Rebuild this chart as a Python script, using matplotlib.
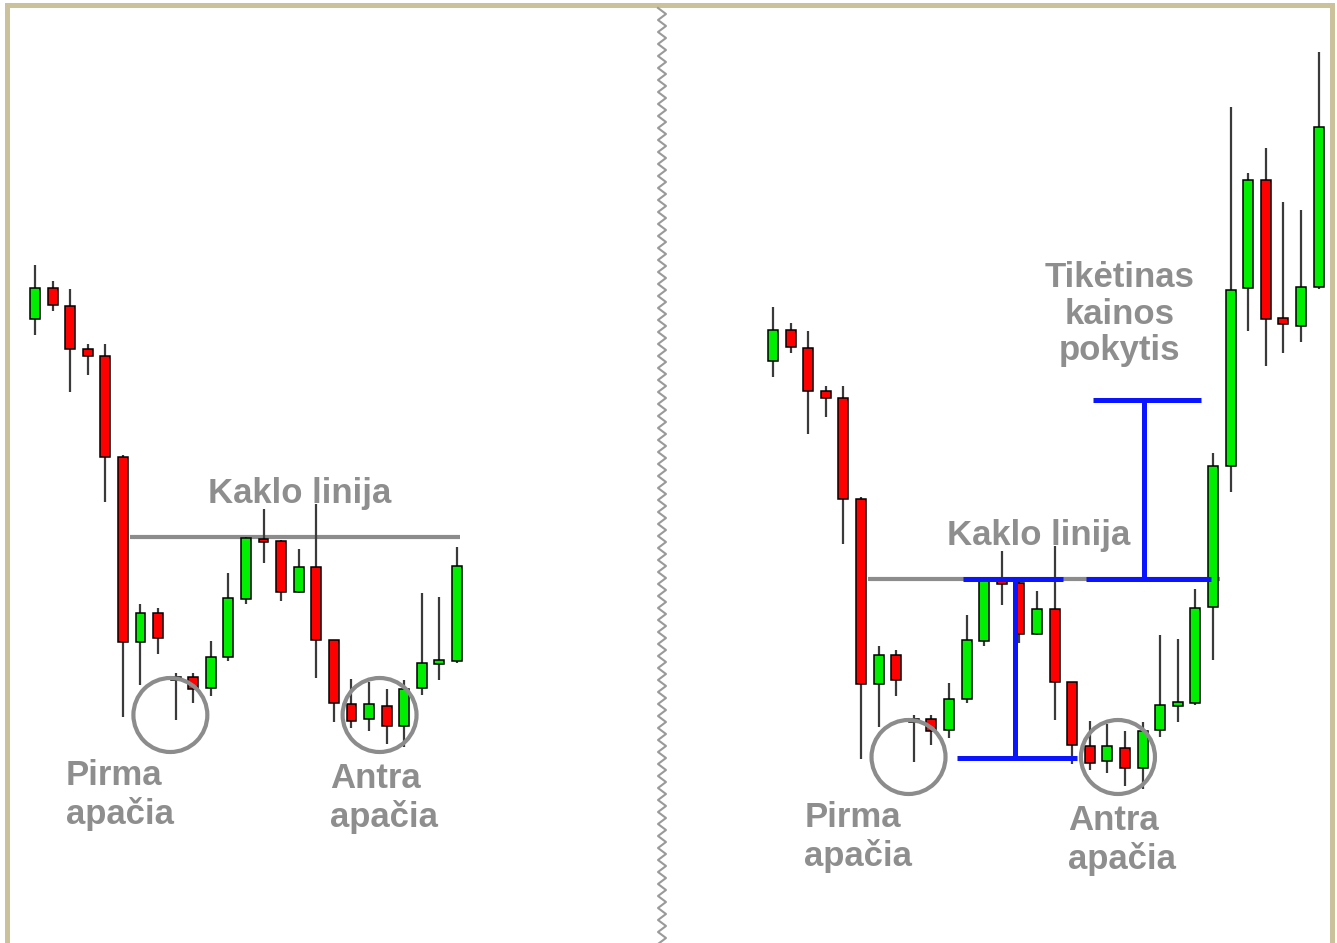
import matplotlib.pyplot as plt
from matplotlib.patches import Ellipse
import numpy as np

# candles (arbitrary price units), 32 bars
opens  = [381, 412, 394, 351, 344, 243, 58, 87, 20, 23, 12, 43, 101, 160, 159, 108,
          133, 60, -4, -19, -6, -26, 12, 36, 39, 135, 276, 454, 562, 424, 416, 455]
highs  = [435, 419, 411, 356, 356, 245, 96, 92, 27, 27, 59, 127, 163, 191, 160, 151,
          196, 60, 21, 18, 11, 20, 107, 103, 153, 289, 635, 569, 594, 540, 532, 690]
lows   = [365, 389, 308, 325, 198, -17, 15, 46, -20, -3, 4, 39, 96, 137, 99, 107,
          22, -22, -28, -31, -44, -47, 5, 20, 37, 82, 250, 411, 376, 389, 400, 453]
closes = [412, 395, 351, 344, 243, 58, 87, 62, 22, 11, 43, 102, 162, 158, 108, 133,
          60, -3, -21, -4, -26, 11, 37, 40, 134, 276, 452, 562, 423, 418, 455, 615]

n_left = 25          # left panel stops before the breakout
neckline = 163
bottom_level = -16
target_level = 342

TEXT_GRAY = "#8e8e8e"
LINE_GRAY = "#8c8c8c"
BLUE = "#0a14ff"
FONT = "Liberation Sans"
FS = 25

W, H = 1337, 943
fig = plt.figure(figsize=(W / 100, H / 100), dpi=100)
fig.patch.set_facecolor("white")


def draw_candles(ax, n):
    x = np.arange(n)
    o = np.array(opens[:n]); c = np.array(closes[:n])
    hi = np.array(highs[:n]); lo = np.array(lows[:n])
    ax.vlines(x, lo, hi, color="#3a3a3a", lw=1.6, zorder=3)
    up = c >= o
    body = np.maximum(np.abs(c - o), 3)
    ax.bar(x, body, bottom=np.minimum(o, c), width=0.56,
           color=np.where(up, "#00ee00", "#ff0000"),
           edgecolor="black", linewidth=1.1, zorder=4)


def labels(ax):
    kw = dict(color=TEXT_GRAY, fontsize=FS, fontweight="bold", family=FONT, zorder=6)
    ax.text(15.07, 197, "Kaklo linija", ha="center", va="baseline", **kw)
    for i, line in enumerate(["Pirma", "apačia"]):
        ax.text(1.77, -85 - 39 * i, line, ha="left", va="baseline", **kw)
    for i, line in enumerate(["Antra", "apačia"]):
        ax.text(16.78, -88 - 39 * i, line, ha="left", va="baseline", **kw)
    for cx in (7.7, 19.6):
        ax.add_patch(Ellipse((cx, -15), 2 * 37 / 17.6, 74, fill=False,
                             edgecolor=LINE_GRAY, lw=3, zorder=5))


# left panel
axl = fig.add_axes([0, 0, 1, 1])
axl.set_xlim(-35 / 17.58, (W - 35) / 17.58)
axl.set_ylim(700 - H, 700)
axl.axis("off")
axl.patch.set_alpha(0)
axl.plot([5.4, 24.2], [neckline, neckline], color=LINE_GRAY, lw=3, zorder=2,
         solid_capstyle="butt")
draw_candles(axl, n_left)
labels(axl)

# right panel
axr = fig.add_axes([0, 0, 1, 1])
axr.set_xlim(-773 / 17.6, (W - 773) / 17.6)
axr.set_ylim(742 - H, 742)
axr.axis("off")
axr.patch.set_alpha(0)
axr.plot([5.4, 25.4], [neckline, neckline], color=LINE_GRAY, lw=3, zorder=2,
         solid_capstyle="butt")
draw_candles(axr, len(opens))
labels(axr)
blue = dict(color=BLUE, lw=3.6, zorder=5, solid_capstyle="butt")
axr.plot([10.45, 17.27], [bottom_level, bottom_level], **blue)
axr.plot([13.75, 13.75], [bottom_level, neckline], **blue)
axr.plot([10.8, 16.5], [neckline, neckline], **blue)
axr.plot([17.8, 24.9], [neckline, neckline], **blue)
axr.plot([21.08, 21.08], [neckline, target_level], **blue)
axr.plot([18.2, 24.3], [target_level, target_level], **blue)
for i, line in enumerate(["Tikėtinas", "kainos", "pokytis"]):
    axr.text(19.7, 455 - 36.5 * i, line, ha="center", va="baseline",
             color=TEXT_GRAY, fontsize=FS, fontweight="bold", family=FONT, zorder=6)

# frame and zigzag divider, in pixels
axf = fig.add_axes([0, 0, 1, 1])
axf.set_xlim(0, W)
axf.set_ylim(H, 0)
axf.axis("off")
axf.patch.set_alpha(0)
border = "#cbc29c"
axf.plot([6.5, 6.5, 1331.5, 1331.5], [H, 5, 5, H], color=border, lw=3.6,
         solid_joinstyle="miter")
zy = np.arange(8, H + 6, 6)
zx = 662 + np.where(np.arange(len(zy)) % 2 == 0, -4, 4)
axf.plot(zx, zy, color="#9a9a9a", lw=1.5)

fig.savefig("out.png", dpi=100)
